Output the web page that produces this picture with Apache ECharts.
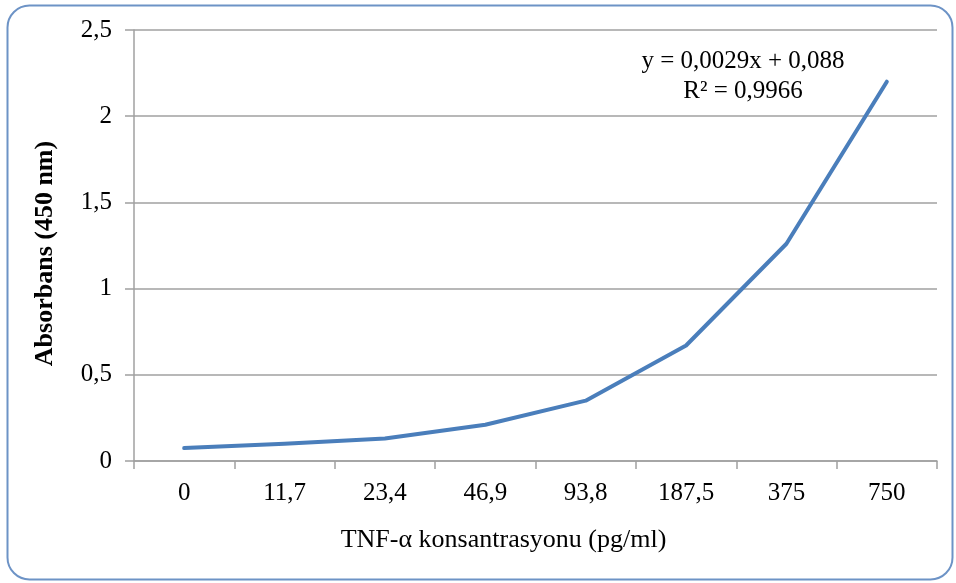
<!DOCTYPE html>
<html><head><meta charset="utf-8">
<script src="https://cdn.jsdelivr.net/npm/echarts@6/dist/echarts.min.js"></script>
<style>html,body{margin:0;padding:0;background:#fff}#c{width:956px;height:583px}</style>
</head><body><div id="c"></div>
<script>
var categories = ['0','11,7','23,4','46,9','93,8','187,5','375','750'];
var absorbance = [0.075, 0.10, 0.13, 0.21, 0.35, 0.67, 1.26, 2.20];
var yTicks = [0, 0.5, 1, 1.5, 2, 2.5];
var equationLines = ['y = 0,0029x + 0,088', 'R² = 0,9966'];
var yName = 'Absorbans (450 nm)';
var xName = 'TNF-α konsantrasyonu (pg/ml)';

var font = '"Liberation Serif", "Times New Roman", serif';
var chart = echarts.init(document.getElementById('c'));
function fmt(v){ return String(v).replace('.', ','); }
chart.setOption({
  animation: false,
  backgroundColor: '#fff',
  grid: { left: 134, right: 19, top: 30, bottom: 122, containLabel: false },
  graphic: [
    { type: 'rect', left: 5, top: 3, shape: { width: 945, height: 574, r: 22 },
      style: { fill: 'none', stroke: '#6d93c6', lineWidth: 2 }, z: -1 },
    { type: 'text', x: 743, y: 46, style: { text: equationLines.join('\n'), font: '25px ' + font,
      fill: '#000', textAlign: 'center', lineHeight: 30 } }
  ],
  xAxis: {
    type: 'category', data: categories, boundaryGap: true,
    name: xName, nameLocation: 'middle', nameGap: 66,
    nameTextStyle: { fontFamily: font, fontSize: 26, color: '#000', padding: [0, 64, 0, 0] },
    axisLine: { lineStyle: { color: '#a0a0a0', width: 1.5 } },
    axisTick: { show: true, length: 8, lineStyle: { color: '#a0a0a0', width: 1.5 } },
    axisLabel: { fontFamily: font, fontSize: 25, color: '#000', margin: 20 },
    splitLine: { show: false }
  },
  yAxis: {
    type: 'value', min: 0, max: 2.5, interval: 0.5,
    name: yName, nameLocation: 'middle', nameGap: 76,
    nameTextStyle: { fontFamily: font, fontSize: 26, fontWeight: 'bold', color: '#000', padding: [0, 16, 0, 0] },
    axisLine: { show: true, lineStyle: { color: '#a0a0a0', width: 1.5 } },
    axisTick: { show: true, length: 9, lineStyle: { color: '#a0a0a0', width: 1.5 } },
    axisLabel: { fontFamily: font, fontSize: 25, color: '#000', margin: 22, formatter: fmt },
    splitLine: { show: true, lineStyle: { color: '#a0a0a0', width: 1.5 } }
  },
  series: [{
    type: 'line', data: absorbance, symbol: 'none', smooth: false,
    lineStyle: { color: '#4a7ebb', width: 4, join: 'round', cap: 'round' }
  }]
});
</script></body></html>
